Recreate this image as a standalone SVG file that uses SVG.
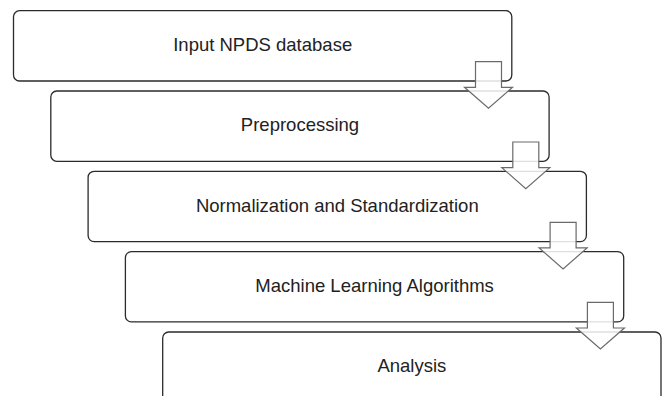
<svg xmlns="http://www.w3.org/2000/svg" width="662" height="396" viewBox="0 0 662 396">
  <style>
    .box { fill: #ffffff; stroke: #2b2b2b; stroke-width: 1.3; }
    .label { font-family: "Liberation Sans", Arial, sans-serif; font-size: 18.5px; fill: #222222; text-anchor: middle; }
    .arrow { fill: #ffffff; fill-opacity: 0.85; stroke: #6a6a6a; stroke-width: 1.2; stroke-linejoin: miter; }
  </style>
  <rect width="662" height="396" fill="#ffffff"/>

  <!-- process steps, each shifted right and down -->
  <g id="step-input">
    <rect class="box" x="13.5" y="10.7" width="498.3" height="70.3" rx="6"/>
    <text class="label" x="262.7" y="51">Input NPDS database</text>
  </g>
  <g id="step-preprocessing">
    <rect class="box" x="50.8" y="91" width="498.3" height="70.3" rx="6"/>
    <text class="label" x="300" y="131.3">Preprocessing</text>
  </g>
  <g id="step-normalization">
    <rect class="box" x="88.1" y="171.3" width="498.3" height="70.3" rx="6"/>
    <text class="label" x="337.3" y="211.6">Normalization and Standardization</text>
  </g>
  <g id="step-ml">
    <rect class="box" x="125.4" y="251.6" width="498.3" height="70.3" rx="6"/>
    <text class="label" x="374.6" y="291.9">Machine Learning Algorithms</text>
  </g>
  <g id="step-analysis">
    <rect class="box" x="162.7" y="332" width="498.3" height="70.3" rx="6"/>
    <text class="label" x="411.9" y="371.7">Analysis</text>
  </g>

  <!-- block arrows between steps -->
  <defs>
    <path id="blockArrow" d="M -13 0 H 13 V 25.6 H 24 L 0 46.6 L -24 25.6 H -13 Z"/>
  </defs>
  <g id="connectors">
    <use href="#blockArrow" class="arrow" x="488.5" y="61.7"/>
    <use href="#blockArrow" class="arrow" x="525.8" y="142"/>
    <use href="#blockArrow" class="arrow" x="563.1" y="222.3"/>
    <use href="#blockArrow" class="arrow" x="600.4" y="302.4"/>
  </g>
</svg>
